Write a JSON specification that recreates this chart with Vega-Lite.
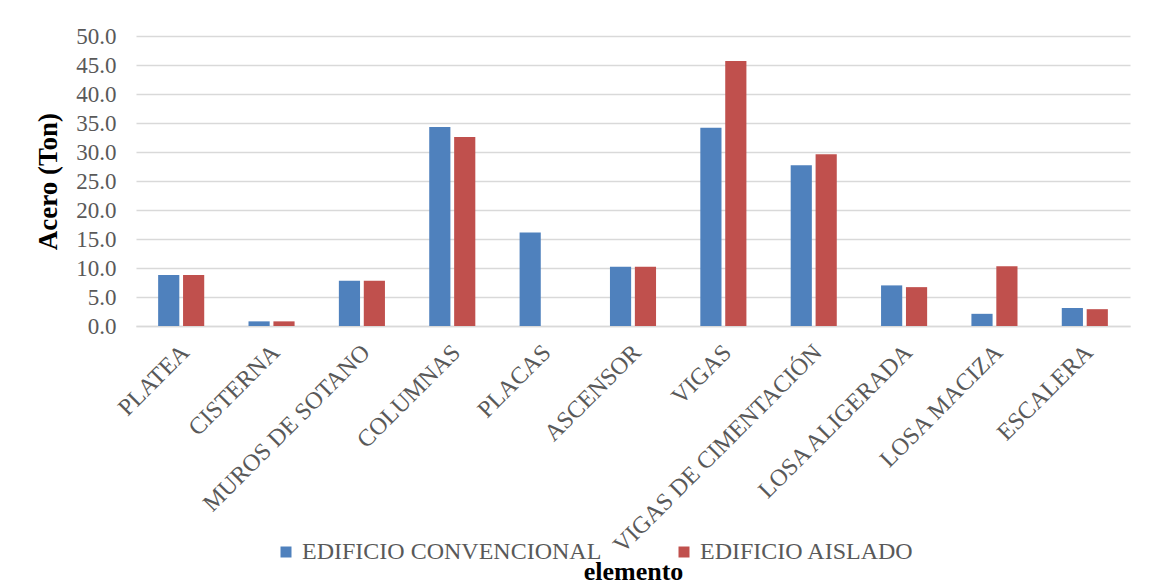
{
  "$schema": "https://vega.github.io/schema/vega-lite/v6.json",
  "width": 994,
  "height": 290,
  "autosize": {"type": "none"},
  "padding": {"left": 136, "top": 36, "right": 30, "bottom": 260},
  "background": "white",
  "data": {
    "values": [
      {"elemento": "PLATEA", "serie": "EDIFICIO CONVENCIONAL", "acero": 8.8},
      {"elemento": "PLATEA", "serie": "EDIFICIO AISLADO", "acero": 8.8},
      {"elemento": "CISTERNA", "serie": "EDIFICIO CONVENCIONAL", "acero": 0.8},
      {"elemento": "CISTERNA", "serie": "EDIFICIO AISLADO", "acero": 0.8},
      {"elemento": "MUROS DE SOTANO", "serie": "EDIFICIO CONVENCIONAL", "acero": 7.8},
      {"elemento": "MUROS DE SOTANO", "serie": "EDIFICIO AISLADO", "acero": 7.8},
      {"elemento": "COLUMNAS", "serie": "EDIFICIO CONVENCIONAL", "acero": 34.3},
      {"elemento": "COLUMNAS", "serie": "EDIFICIO AISLADO", "acero": 32.6},
      {"elemento": "PLACAS", "serie": "EDIFICIO CONVENCIONAL", "acero": 16.1},
      {"elemento": "PLACAS", "serie": "EDIFICIO AISLADO", "acero": 0},
      {"elemento": "ASCENSOR", "serie": "EDIFICIO CONVENCIONAL", "acero": 10.2},
      {"elemento": "ASCENSOR", "serie": "EDIFICIO AISLADO", "acero": 10.2},
      {"elemento": "VIGAS", "serie": "EDIFICIO CONVENCIONAL", "acero": 34.2},
      {"elemento": "VIGAS", "serie": "EDIFICIO AISLADO", "acero": 45.7},
      {"elemento": "VIGAS DE CIMENTACIÓN", "serie": "EDIFICIO CONVENCIONAL", "acero": 27.7},
      {"elemento": "VIGAS DE CIMENTACIÓN", "serie": "EDIFICIO AISLADO", "acero": 29.6},
      {"elemento": "LOSA ALIGERADA", "serie": "EDIFICIO CONVENCIONAL", "acero": 7.0},
      {"elemento": "LOSA ALIGERADA", "serie": "EDIFICIO AISLADO", "acero": 6.7},
      {"elemento": "LOSA MACIZA", "serie": "EDIFICIO CONVENCIONAL", "acero": 2.1},
      {"elemento": "LOSA MACIZA", "serie": "EDIFICIO AISLADO", "acero": 10.3},
      {"elemento": "ESCALERA", "serie": "EDIFICIO CONVENCIONAL", "acero": 3.1},
      {"elemento": "ESCALERA", "serie": "EDIFICIO AISLADO", "acero": 2.9}
    ]
  },
  "mark": {"type": "bar"},
  "encoding": {
    "x": {
      "field": "elemento",
      "type": "nominal",
      "sort": null,
      "scale": {"paddingInner": 0.49, "paddingOuter": 0.245},
      "axis": {
        "title": "elemento",
        "labelAngle": -45,
        "labelAlign": "right",
        "labelBaseline": "top",
        "labelPadding": 14,
        "labelOffset": -4,
        "labelLimit": 0,
        "ticks": false,
        "domainColor": "#D9D9D9",
        "domainWidth": 1.5,
        "labelFont": "Liberation Serif",
        "labelFontSize": 24,
        "labelColor": "#595959",
        "titleFont": "Liberation Serif",
        "titleFontSize": 26,
        "titleFontWeight": "bold",
        "titleColor": "#000000",
        "titleY": 253,
        "titleBaseline": "alphabetic"
      }
    },
    "xOffset": {
      "field": "serie",
      "type": "nominal",
      "sort": ["EDIFICIO CONVENCIONAL", "EDIFICIO AISLADO"],
      "scale": {"paddingInner": 0.15, "paddingOuter": 0}
    },
    "y": {
      "field": "acero",
      "type": "quantitative",
      "scale": {"domain": [0, 50]},
      "axis": {
        "values": [0, 5, 10, 15, 20, 25, 30, 35, 40, 45, 50],
        "format": ".1f",
        "title": "Acero (Ton)",
        "titleX": -88,
        "titleY": 145,
        "titleAngle": -90,
        "titleAlign": "center",
        "titleBaseline": "middle",
        "titleFont": "Liberation Serif",
        "titleFontSize": 27,
        "titleFontWeight": "bold",
        "titleColor": "#000000",
        "labelPadding": 20,
        "labelFont": "Liberation Serif",
        "labelFontSize": 23,
        "labelColor": "#595959",
        "ticks": false,
        "domain": false,
        "gridColor": "#D9D9D9",
        "gridWidth": 1.5
      }
    },
    "color": {
      "field": "serie",
      "type": "nominal",
      "scale": {
        "domain": ["EDIFICIO CONVENCIONAL", "EDIFICIO AISLADO"],
        "range": ["#4F81BD", "#C0504D"]
      },
      "legend": {
        "title": null,
        "orient": "none",
        "legendX": 138,
        "legendY": 504,
        "direction": "horizontal",
        "symbolType": "square",
        "symbolSize": 121,
        "symbolStrokeWidth": 0,
        "labelFont": "Liberation Serif",
        "labelFontSize": 24,
        "labelColor": "#595959",
        "labelLimit": 0,
        "labelOffset": 4,
        "columnPadding": 70
      }
    }
  },
  "config": {
    "font": "Liberation Serif",
    "view": {"stroke": null},
    "legend": {"labelFont": "Liberation Serif"}
  }
}
